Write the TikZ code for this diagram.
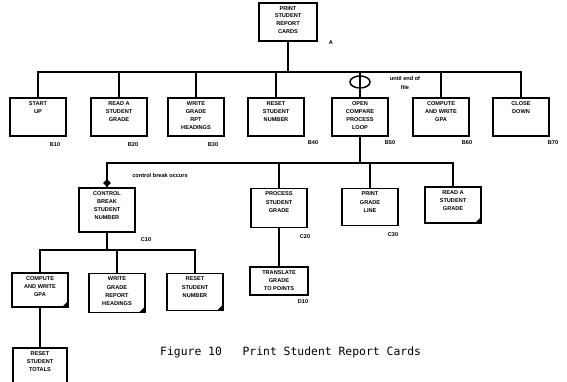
\documentclass[tikz,border=0pt]{standalone}
\usepackage{fontspec}
\setmainfont{Liberation Sans}
\newfontfamily\capfont{DejaVu Sans Mono}
\usetikzlibrary{shapes.geometric}

\tikzset{
  box/.style={draw, line width=1.5pt, minimum width=56, minimum height=38, inner sep=0pt},
  boxtext/.style={anchor=north, align=center, inner sep=0pt, yshift=-4pt,
    font=\fontsize{5.6}{8.2}\selectfont\bfseries},
  leaf/.style={path picture={\fill (path picture bounding box.south east)
    -- ++(-6pt,0pt) -- ++(6pt,6pt) -- cycle;}},
  tag/.style={font=\fontsize{5.6}{6}\selectfont\bfseries, inner sep=0pt},
  wire/.style={line width=1.5pt}
}

\begin{document}
\begin{tikzpicture}[x=1pt, y=-1pt]
    \useasboundingbox (0,0) rectangle (567,381);
    \clip (0,0) rectangle (567,381);

    % main module
    \node[box, minimum width=58, minimum height=38] (top) at (288,22) {};
    \node[boxtext, font=\fontsize{5.6}{7.6}\selectfont\bfseries] at (top.north) {PRINT\\STUDENT\\REPORT\\CARDS};
    \node[tag] (ta) at (331,43) {A};

    % first level
    \node[box] (start) at (38,117) {};
    \node[boxtext] at (start.north) {START\\UP};
    \node[box] (read) at (119,117) {};
    \node[boxtext] at (read.north) {READ A\\STUDENT\\GRADE};
    \node[box] (whead) at (196,117) {};
    \node[boxtext] at (whead.north) {WRITE\\GRADE\\RPT\\HEADINGS};
    \node[box] (reset) at (276,117) {};
    \node[boxtext] at (reset.north) {RESET\\STUDENT\\NUMBER};
    \node[box] (open) at (360,117) {};
    \node[boxtext] at (open.north) {OPEN\\COMPARE\\PROCESS\\LOOP};
    \node[box] (gpa) at (441,117) {};
    \node[boxtext] at (gpa.north) {COMPUTE\\AND WRITE\\GPA};
    \node[box] (close) at (521,117) {};
    \node[boxtext] at (close.north) {CLOSE\\DOWN};

    \node[tag] (tb1) at (55,145) {B10};
    \node[tag] (tb2) at (133,145) {B20};
    \node[tag] (tb3) at (213,145) {B30};
    \node[tag] (tb4) at (313,143) {B40};
    \node[tag] (tb5) at (390,143) {B50};
    \node[tag] (tb6) at (467,143) {B60};
    \node[tag] (tb7) at (553,143) {B70};

    \coordinate (bus1) at (288,72);
    \draw[wire] (top.south) -- (bus1);
    \foreach \n in {start,read,whead,reset,open,gpa,close}
        \draw[wire] (\n.north) |- (bus1);

    % loop mark
    \node[draw, ellipse, line width=1.5pt, minimum width=20, minimum height=12, inner sep=0pt] (loop) at (360,82) {};
    \node[tag, align=center, font=\fontsize{5.6}{8.5}\selectfont\bfseries] (until) at (405,83) {until end of\\file};

    % second level
    \node[box, minimum height=44] (ctrl) at (107,210) {};
    \node[boxtext] at (ctrl.north) {CONTROL\\BREAK\\STUDENT\\NUMBER};
    \node[box, minimum height=39] (proc) at (279,208) {};
    \node[boxtext] at (proc.north) {PROCESS\\STUDENT\\GRADE};
    \node[box, minimum height=37] (pline) at (370,207) {};
    \node[boxtext] at (pline.north) {PRINT\\GRADE\\LINE};
    \node[box, leaf, minimum height=36] (read2) at (453,205) {};
    \node[boxtext] at (read2.north) {READ A\\STUDENT\\GRADE};

    \node[tag] (tc1) at (146,240) {C10};
    \node[tag] (tc2) at (305,237) {C20};
    \node[tag] (tc3) at (393,235) {C30};

    \coordinate (bus2) at (360,163);
    \draw[wire] (open.south) -- (bus2);
    \foreach \n in {ctrl,proc,pline,read2}
        \draw[wire] (\n.north) |- (bus2);

    \node[diamond, fill, inner sep=0pt, minimum size=8] (brk) at (ctrl.north |- 0,183) {};
    \node[tag] (brktext) at (160,175) {control break occurs};

    % third level
    \node[box, leaf, minimum height=34] (cgpa) at (40,290) {};
    \node[boxtext] at (cgpa.north) {COMPUTE\\AND WRITE\\GPA};
    \node[box, leaf, minimum height=39] (whead2) at (117,293) {};
    \node[boxtext] at (whead2.north) {WRITE\\GRADE\\REPORT\\HEADINGS};
    \node[box, leaf, minimum height=37] (reset2) at (195,292) {};
    \node[boxtext] at (reset2.north) {RESET\\STUDENT\\NUMBER};
    \node[box, minimum width=54, minimum height=44] (totals) at (40,370) {};
    \node[boxtext] at (totals.north) {RESET\\STUDENT\\TOTALS};
    \node[box, minimum width=58, minimum height=28] (points) at (279,281) {};
    \node[boxtext] at (points.north) {TRANSLATE\\GRADE\\TO POINTS};
    \node[tag] (td1) at (303,302) {D10};

    \coordinate (bus3) at (107,250);
    \draw[wire] (ctrl.south) -- (bus3);
    \foreach \n in {cgpa,whead2,reset2}
        \draw[wire] (\n.north) |- (bus3);
    \draw[wire] (cgpa.south) -- (totals.north);
    \draw[wire] (proc.south) -- (points.north);

    % caption
    \node[font=\capfont\fontsize{11.4}{13}\selectfont, anchor=west, inner sep=0pt] (caption) at (160,352)
        {Figure 10\ \ \ Print Student Report Cards};
\end{tikzpicture}
\end{document}
